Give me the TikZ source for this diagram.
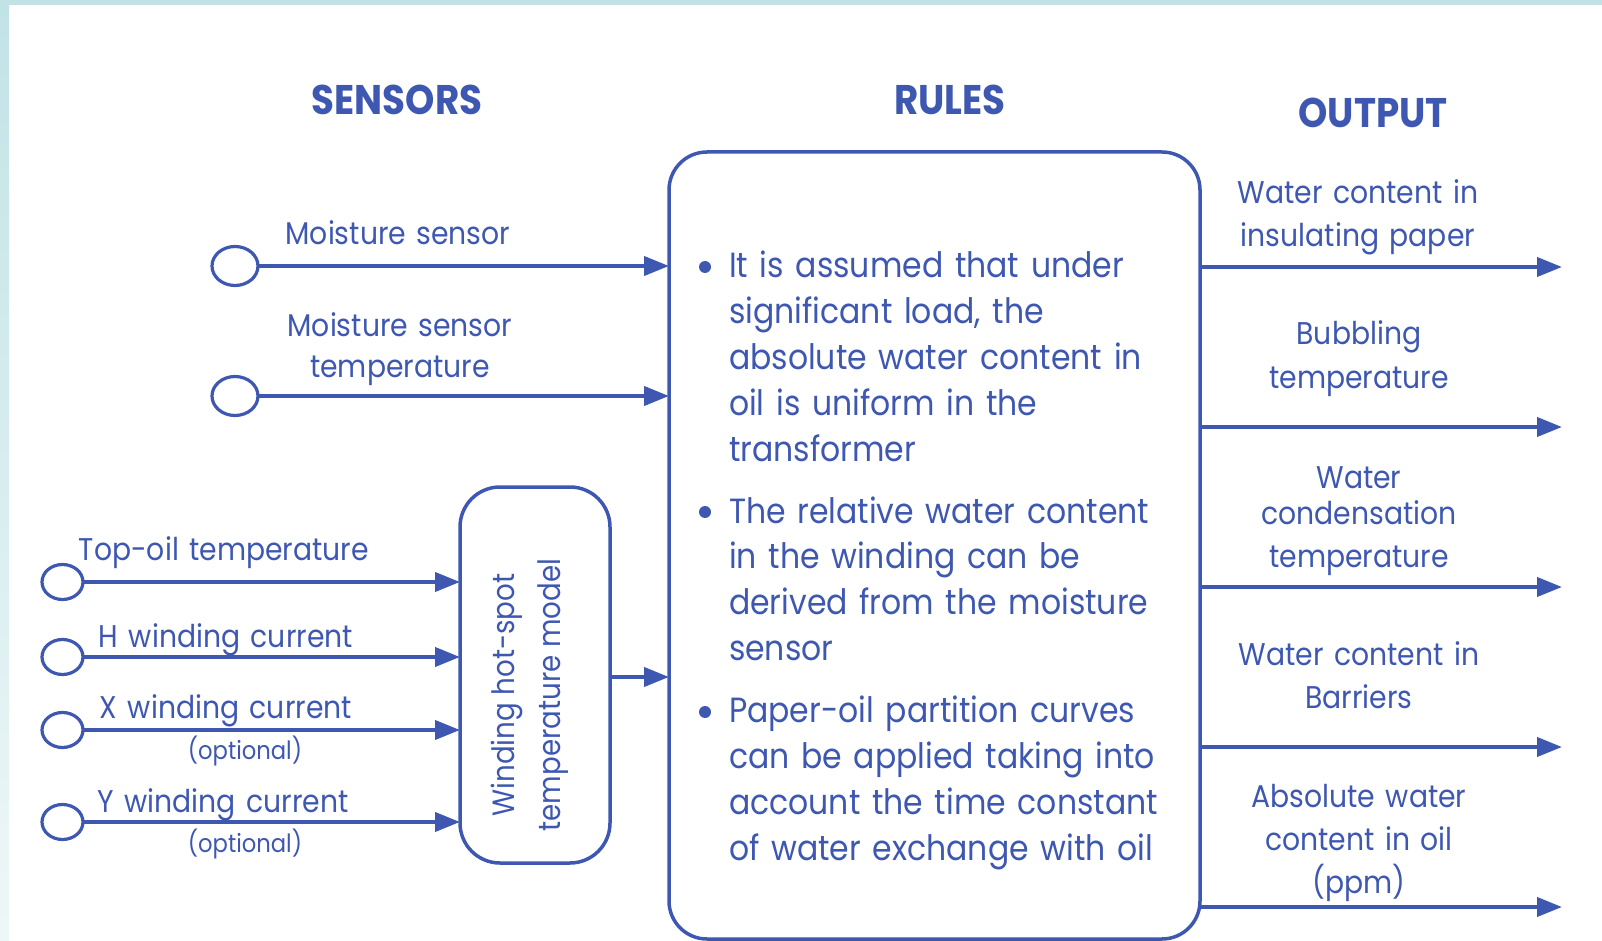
\documentclass[tikz,border=0pt]{standalone}
\usepackage{fontspec}
\setmainfont{Poppins}[FakeStretch=0.9]
\usetikzlibrary{arrows.meta,shapes.geometric}
\definecolor{ink}{RGB}{62,88,178}
\definecolor{frameblue}{RGB}{194,227,230}
\definecolor{framepale}{RGB}{238,247,248}
\begin{document}
\begin{tikzpicture}[x=0.5pt,y=-0.5pt,
  every node/.style={text=ink,inner sep=0pt,outer sep=0pt},
  flow/.style={draw=ink,line width=2pt,-{Triangle[length=12.5pt,width=9.5pt]}},
  port/.style={draw=ink,line width=1.6pt,ellipse,fill=white},
  bigport/.style={port,minimum width=23pt,minimum height=19.5pt},
  smallport/.style={port,minimum width=20.5pt,minimum height=17.5pt},
  heading/.style={font=\fontsize{20.7}{25}\selectfont\bfseries,anchor=base},
  lbl/.style={font=\fontsize{15.7}{21.5}\selectfont,anchor=base,align=center,text width=170pt},
  note/.style={font=\fontsize{12.6}{15}\selectfont,anchor=base},
  rule/.style={font=\fontsize{17.5}{23}\selectfont,anchor=base west,align=left,text width=270pt},
  panel/.style={draw=ink,line width=1.75pt}
]
\useasboundingbox (0,0) rectangle (1602,941);
% pale frame along the top and left edges
\fill[frameblue] (0,0) rectangle (1602,5);
\shade[top color=frameblue,bottom color=framepale] (0,5) rectangle (9,941);

% column headings
\node[heading] (tsens) at (397,115) {SENSORS};
\node[heading] (trules) at (950,115) {RULES};
\node[heading] (tout) at (1373,128) {OUTPUT};

% rule box and hot-spot model
\node[panel,rounded corners=19pt,minimum width=265.5pt,minimum height=393.5pt] (rules) at (934.5,545.5) {};
\node[panel,rounded corners=20pt,minimum width=75pt,minimum height=188pt] (hs) at (535,675) {};
\node[font=\fontsize{15.4}{23}\selectfont,rotate=90,align=center] (hstext) at (530,695) {Winding hot-spot\\temperature model};

% sensor inputs
\node[bigport] (ms) at (235,266) {};
\node[bigport] (mst) at (235,396) {};
\node[smallport] (top) at (62.5,582) {};
\node[smallport] (hc) at (62.5,657) {};
\node[smallport] (xc) at (62.5,730) {};
\node[smallport] (yc) at (62.5,822) {};

\draw[flow] (ms.east) -- (ms.east -| rules.west);
\draw[flow] (mst.east) -- (mst.east -| rules.west);
\draw[flow] (top.east) -- (top.east -| hs.west);
\draw[flow] (hc.east) -- (hc.east -| hs.west);
\draw[flow] (xc.east) -- (xc.east -| hs.west);
\draw[flow] (yc.east) -- (yc.east -| hs.west);
\coordinate (hsout) at (610,677);
\draw[flow] (hsout) -- (hsout -| rules.west);

\node[lbl] (lms) at (398,245) {Moisture sensor};
\node[lbl] (lmst) at (400,337) {Moisture sensor\\[-1pt]temperature};
\node[lbl] (ltop) at (224,560) {Top-oil temperature};
\node[lbl] (lhc) at (226,647) {H winding current};
\node[lbl] (lxc) at (226,718) {X winding current};
\node[note] (oxc) at (245,759) {(optional)};
\node[lbl] (lyc) at (223,812) {Y winding current};
\node[note] (oyc) at (245,852) {(optional)};

% rules text
\fill[ink] (705,267) circle (3pt);
\fill[ink] (705,512) circle (3pt);
\fill[ink] (705,712) circle (3pt);
\node[rule] (r1) at (729,278) {It is assumed that under\\significant load, the\\absolute water content in\\oil is uniform in the\\transformer};
\node[rule] (r2) at (729,523) {The relative water content\\in the winding can be\\derived from the moisture\\sensor};
\node[rule] (r3) at (729,722) {Paper-oil partition curves\\can be applied taking into\\account the time constant\\of water exchange with oil};

% outputs
\coordinate (o1) at (1562,267);
\coordinate (o2) at (1562,427);
\coordinate (o3) at (1562,587);
\coordinate (o4) at (1562,747);
\coordinate (o5) at (1562,907);
\draw[flow] (o1 -| rules.east) -- (o1);
\draw[flow] (o2 -| rules.east) -- (o2);
\draw[flow] (o3 -| rules.east) -- (o3);
\draw[flow] (o4 -| rules.east) -- (o4);
\draw[flow] (o5 -| rules.east) -- (o5);

\node[lbl] (lo1) at (1358,204) {Water content in\\insulating paper};
\node[lbl] (lo2) at (1359,345) {Bubbling\\temperature};
\node[lbl] (lo3) at (1359,488) {Water\\[-3.5pt]condensation\\temperature};
\node[lbl] (lo4) at (1359,665) {Water content in\\Barriers};
\node[lbl] (lo5) at (1359,807) {Absolute water\\content in oil\\(ppm)};
\end{tikzpicture}
\end{document}
